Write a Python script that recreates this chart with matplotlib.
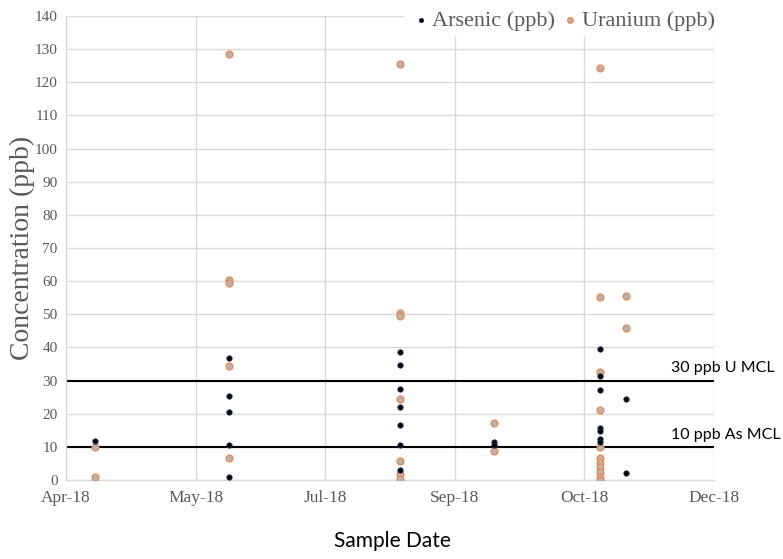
import matplotlib
matplotlib.use("Agg")
import matplotlib.pyplot as plt
import matplotlib.dates as mdates
import datetime as dt

# ---- data ----
as_dates = ["2018-04-18",
            "2018-06-09", "2018-06-09", "2018-06-09", "2018-06-09", "2018-06-09",
            "2018-08-14", "2018-08-14", "2018-08-14", "2018-08-14", "2018-08-14", "2018-08-14", "2018-08-14",
            "2018-09-19", "2018-09-19",
            "2018-10-30", "2018-10-30", "2018-10-30", "2018-10-30", "2018-10-30", "2018-10-30", "2018-10-30",
            "2018-11-09", "2018-11-09"]
as_vals = [11.8,
           36.7, 25.3, 20.4, 10.5, 1.0,
           38.7, 34.6, 27.6, 21.9, 16.6, 10.5, 2.9,
           11.5, 10.7,
           39.4, 31.4, 27.2, 15.6, 14.9, 12.3, 11.6,
           24.4, 2.2]

u_dates = ["2018-04-18", "2018-04-18",
           "2018-06-09", "2018-06-09", "2018-06-09", "2018-06-09", "2018-06-09",
           "2018-08-14", "2018-08-14", "2018-08-14", "2018-08-14", "2018-08-14", "2018-08-14", "2018-08-14",
           "2018-09-19", "2018-09-19",
           "2018-10-30", "2018-10-30", "2018-10-30", "2018-10-30", "2018-10-30", "2018-10-30",
           "2018-10-30", "2018-10-30", "2018-10-30", "2018-10-30", "2018-10-30",
           "2018-11-09", "2018-11-09"]
u_vals = [10.0, 1.0,
          128.5, 60.2, 59.5, 34.5, 6.5,
          125.5, 50.5, 49.5, 24.3, 5.8, 1.8, 0.4,
          17.2, 8.9,
          124.2, 55.2, 32.7, 21.1, 9.9, 6.5, 5.2, 4.0, 2.5, 1.0, 0.0,
          55.6, 45.8]

mcl_vals = [30, 10]
mcl_labels = ["30 ppb U MCL", "10 ppb As MCL"]

x_start = "2018-04-07"
x_step_days = 50
n_ticks = 6

def to_num(s):
    return mdates.date2num(dt.datetime.strptime(s, "%Y-%m-%d"))

as_x = [to_num(d) for d in as_dates]
u_x = [to_num(d) for d in u_dates]
x0 = to_num(x_start)
xticks = [x0 + i * x_step_days for i in range(n_ticks)]

fig = plt.figure(figsize=(7.83, 5.59), dpi=100)
ax = fig.add_axes([66/783, 1-480/559, (714-66)/783, (480-16)/559])

serif = ["Liberation Serif", "DejaVu Serif"]
gray_txt = "#595959"

ax.scatter(as_x, as_vals, s=15, color="black", edgecolors="#1F3864", linewidths=0.6,
           zorder=4, label="Arsenic (ppb)")
ax.scatter(u_x, u_vals, s=24, color="#B4B4B4", edgecolors="#EE8A4E", linewidths=1.0,
           zorder=3, label="Uranium (ppb)")

for v in mcl_vals:
    ax.axhline(v, color="black", lw=1.5, zorder=2)

ax.set_xlim(xticks[0], xticks[-1])
ax.set_ylim(0, 140)
ax.set_xticks(xticks)
ax.xaxis.set_major_formatter(mdates.DateFormatter("%b-%y"))
ax.set_yticks(range(0, 141, 10))
ax.grid(True, color="#D9D9D9", lw=1.0, zorder=0)
ax.set_axisbelow(True)
for sp in ["top", "right"]:
    ax.spines[sp].set_visible(False)
for sp in ["left", "bottom"]:
    ax.spines[sp].set_color("#D9D9D9")
    ax.spines[sp].set_linewidth(1.0)
ax.tick_params(length=0, labelcolor=gray_txt)
ax.tick_params(axis="x", labelsize=12.5, pad=7)
ax.tick_params(axis="y", labelsize=11, pad=6)
for lab in ax.get_xticklabels() + ax.get_yticklabels():
    lab.set_family(serif)

ax.set_ylabel("Concentration (ppb)", family=serif, fontsize=20, color=gray_txt)
ax.yaxis.set_label_coords(-0.048, 0.5)
fig.text(392/783, 1-541/559, "Sample Date", family=["Lato", "DejaVu Sans"], fontsize=15,
         ha="center", va="center", color="black")

for v, t in zip(mcl_vals, mcl_labels):
    yy = ax.transData.transform((0, v))[1]
    fy = fig.transFigure.inverted().transform((0, yy))[1]
    fig.text(671/783, fy + 0.022, t, family=["Lato", "DejaVu Sans"], fontsize=11.5,
             ha="left", va="center", color="black")

leg = fig.legend(loc="upper left", bbox_to_anchor=(393/783, 1.012), ncol=2, frameon=True,
                 facecolor="white", edgecolor="white", framealpha=1.0, fancybox=False,
                 prop={"family": serif, "size": 16}, handletextpad=0.0, columnspacing=0.2,
                 markerscale=0.8, borderpad=0.25, handlelength=1.0)
for t in leg.get_texts():
    t.set_color(gray_txt)
leg.get_frame().set_linewidth(0)

fig.savefig("out.png", dpi=100)
